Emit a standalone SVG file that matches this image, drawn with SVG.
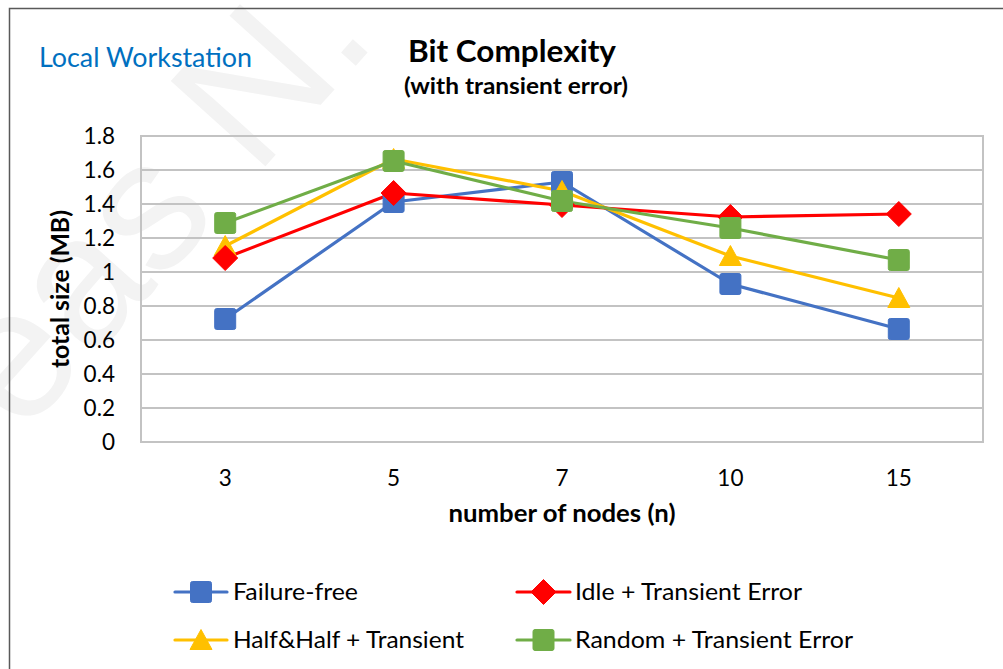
<svg xmlns="http://www.w3.org/2000/svg" width="1003" height="669" viewBox="0 0 1003 669">
  <style>
    .lbl { font-family: Lato, "Liberation Sans", sans-serif; fill: #000; }
    .tick { font-size: 22.5px; }
    .ttl { font-weight: bold; }
    .leg { font-size: 23.5px; }
    .grid { stroke: #c3c3c3; stroke-width: 2; fill: none; }
    .ser { fill: none; stroke-width: 3.2; stroke-linejoin: round; stroke-linecap: round; }
    .blue { stroke: #4472c4; fill: #4472c4; }
    .red { stroke: #ff0000; fill: #ff0000; }
    .yel { stroke: #ffc000; fill: #ffc000; }
    .grn { stroke: #70ad47; fill: #70ad47; }
    .mk { stroke-width: 1; stroke-linejoin: round; }
  </style>
  <defs>
    <rect id="mSq" x="-10.5" y="-10.5" width="21" height="21" rx="2"/>
    <path id="mDia" d="M0,-12.5 L12.5,0 L0,12.5 L-12.5,0 Z"/>
    <path id="mTri" d="M0,-10.5 L11,9.5 L-11,9.5 Z"/>
  </defs>

  <rect width="1003" height="669" fill="#ffffff"/>

  <!-- faint watermark lettering -->
  <text x="0" y="0" transform="translate(379,40) rotate(-48)" text-anchor="end" font-family="Liberation Sans, sans-serif" font-size="185" fill="#f3f3f3">eas N.</text>

  <!-- chart frame -->
  <path d="M9.5,669 V8.5 H1003" fill="none" stroke="#595959" stroke-width="1.5"/>

  <!-- headings -->
  <text id="workstation" class="lbl" x="39" y="67" font-size="26" style="fill:#0070c0" textLength="213" lengthAdjust="spacingAndGlyphs">Local Workstation</text>
  <text id="title" class="lbl ttl" x="512" y="61.5" font-size="30" text-anchor="middle" textLength="208" lengthAdjust="spacingAndGlyphs">Bit Complexity</text>
  <text id="subtitle" class="lbl ttl" x="516" y="94" font-size="23" text-anchor="middle" textLength="224" lengthAdjust="spacingAndGlyphs">(with transient error)</text>

  <!-- plot area and gridlines -->
  <g id="grid">
    <rect class="grid" x="141" y="136" width="842" height="306"/>
    <path class="grid" d="M141,170 H983 M141,204 H983 M141,238 H983 M141,272 H983 M141,306 H983 M141,340 H983 M141,374 H983 M141,408 H983"/>
  </g>

  <!-- value axis -->
  <g id="y-axis" class="lbl tick" text-anchor="end">
    <text x="115" y="144">1.8</text>
    <text x="115" y="178">1.6</text>
    <text x="115" y="212">1.4</text>
    <text x="115" y="246">1.2</text>
    <text x="115" y="280">1</text>
    <text x="115" y="314">0.8</text>
    <text x="115" y="348">0.6</text>
    <text x="115" y="382">0.4</text>
    <text x="115" y="416">0.2</text>
    <text x="115" y="450">0</text>
  </g>
  <text id="y-title" class="lbl ttl" x="0" y="0" font-size="24" text-anchor="middle" transform="translate(69,289) rotate(-90)" textLength="158" lengthAdjust="spacingAndGlyphs">total size (MB)</text>

  <!-- category axis -->
  <g id="x-axis" class="lbl tick" text-anchor="middle">
    <text x="225.2" y="486">3</text>
    <text x="393.6" y="486">5</text>
    <text x="562" y="486">7</text>
    <text x="730.4" y="486">10</text>
    <text x="898.8" y="486">15</text>
  </g>
  <text id="x-title" class="lbl ttl" x="562" y="522" font-size="24" text-anchor="middle" textLength="227" lengthAdjust="spacingAndGlyphs">number of nodes (n)</text>

  <!-- data series -->
  <g id="connectors">
    <polyline id="line-failure-free" class="ser blue" style="fill:none" points="225.2,319 393.6,202 562,182 730.4,284 898.8,329"/>
    <polyline id="line-half" class="ser yel" style="fill:none" points="225.2,246 393.6,159 562,191 730.4,256 898.8,298"/>
    <polyline id="line-idle" class="ser red" style="fill:none" points="225.2,258 393.6,193 562,205 730.4,217 898.8,214"/>
    <polyline id="line-random" class="ser grn" style="fill:none" points="225.2,223 393.6,161 562,201 730.4,228 898.8,260"/>
  </g>

  <g id="pts-failure-free" class="mk blue">
    <use href="#mSq" x="225.2" y="319"/>
    <use href="#mSq" x="393.6" y="202"/>
    <use href="#mSq" x="562" y="182"/>
    <use href="#mSq" x="730.4" y="284"/>
    <use href="#mSq" x="898.8" y="329"/>
  </g>
  <g id="pts-half" class="mk yel">
    <use href="#mTri" x="225.2" y="246"/>
    <use href="#mTri" x="393.6" y="159"/>
    <use href="#mTri" x="562" y="191"/>
    <use href="#mTri" x="730.4" y="256"/>
    <use href="#mTri" x="898.8" y="298"/>
  </g>
  <g id="pts-idle" class="mk red">
    <use href="#mDia" x="225.2" y="258"/>
    <use href="#mDia" x="393.6" y="193"/>
    <use href="#mDia" x="562" y="205"/>
    <use href="#mDia" x="730.4" y="217"/>
    <use href="#mDia" x="898.8" y="214"/>
  </g>
  <g id="pts-random" class="mk grn">
    <use href="#mSq" x="225.2" y="223"/>
    <use href="#mSq" x="393.6" y="161"/>
    <use href="#mSq" x="562" y="201"/>
    <use href="#mSq" x="730.4" y="228"/>
    <use href="#mSq" x="898.8" y="260"/>
  </g>

  <!-- legend -->
  <g id="legend">
    <g id="leg-failure-free">
      <path class="ser blue" d="M175,592 H227"/>
      <use href="#mSq" class="mk blue" x="201" y="592"/>
      <text class="lbl leg" x="233" y="600" textLength="125" lengthAdjust="spacingAndGlyphs">Failure-free</text>
    </g>
    <g id="leg-idle">
      <path class="ser red" d="M517,592 H570"/>
      <use href="#mDia" class="mk red" x="543.5" y="592"/>
      <text class="lbl leg" x="575" y="600" textLength="227" lengthAdjust="spacingAndGlyphs">Idle + Transient Error</text>
    </g>
    <g id="leg-half">
      <path class="ser yel" d="M175,640 H227"/>
      <use href="#mTri" class="mk yel" x="201" y="640"/>
      <text class="lbl leg" x="233" y="648" textLength="231" lengthAdjust="spacingAndGlyphs">Half&amp;Half + Transient</text>
    </g>
    <g id="leg-random">
      <path class="ser grn" d="M517,640 H570"/>
      <use href="#mSq" class="mk grn" x="543.5" y="640"/>
      <text class="lbl leg" x="575" y="648" textLength="278" lengthAdjust="spacingAndGlyphs">Random + Transient Error</text>
    </g>
  </g>
</svg>
